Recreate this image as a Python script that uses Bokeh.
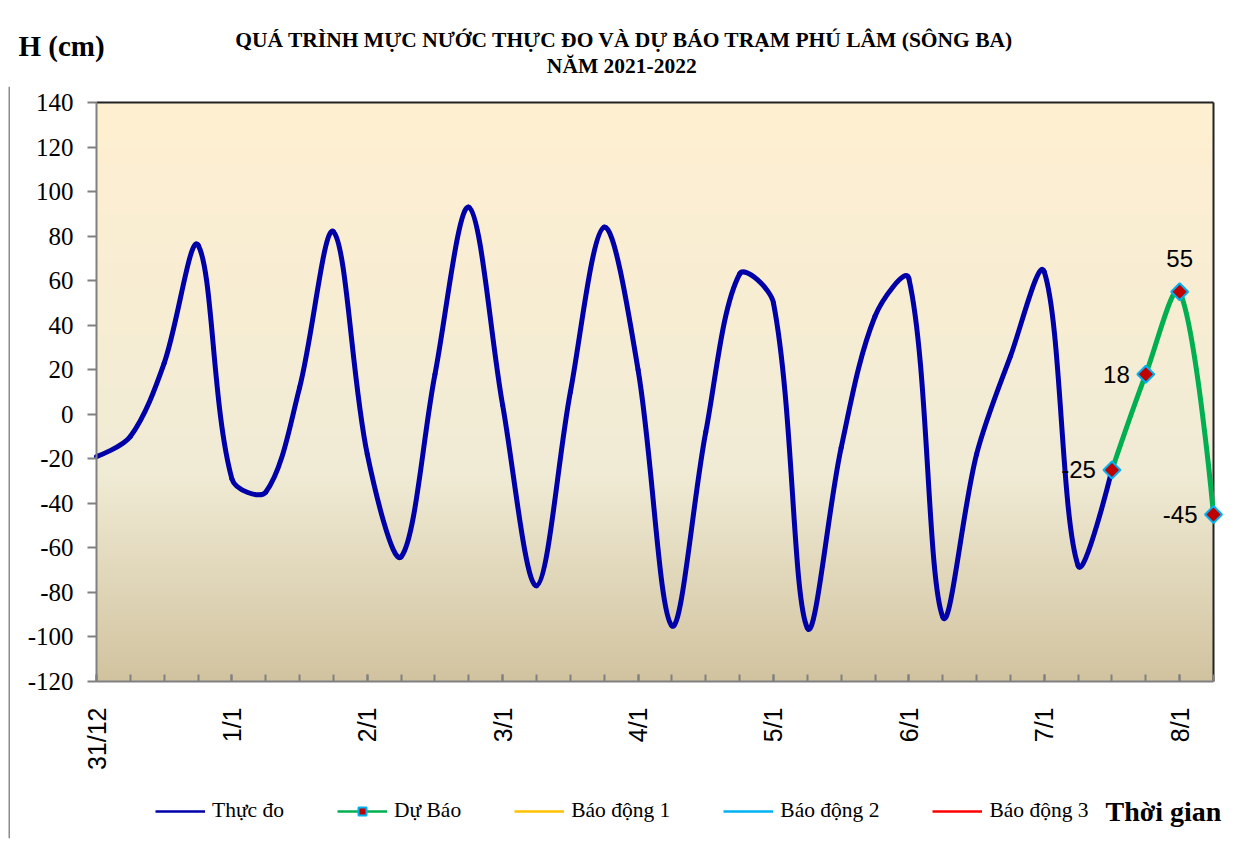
import numpy as np
from bokeh.plotting import figure
from bokeh.models import (Range1d, FixedTicker, Label, Legend, LegendItem,
                          ColumnDataSource, CustomJSTickFormatter)
from bokeh.embed import file_html
from bokeh.resources import INLINE
from bokeh.core.properties import value

# ---------------- data ----------------
tick_labels = ["31/12", "1/1", "2/1", "3/1", "4/1", "5/1", "6/1", "7/1", "8/1"]
steps_per_day = 4
observed = [-19, -10, 23, 76, -29, -35, 12, 82, -18, -64, 18, 93, 4, -77,
            10, 84, 20, -95, -8, 63, 50, -96, -15, 44, 61, -91, -18, 26, 64,
            -68, -25]
forecast_start = 30
forecast = [-25, 18, 55, -45]
series_names = ["Thực đo", "Dự Báo", "Báo động 1", "Báo động 2", "Báo động 3"]
y_ticks = list(range(-120, 141, 20))

title_text = "QUÁ TRÌNH MỰC NƯỚC THỰC ĐO VÀ DỰ BÁO TRẠM PHÚ LÂM (SÔNG BA)\nNĂM  2021-2022"
y_title = "H (cm)"
x_title = "Thời gian"

SERIF = "Liberation Serif"
SANS = "Liberation Sans"
BLUE = "#0000A8"
GREEN = "#00B050"

# ---------------- layout (pixels) ----------------
W, H = 1229, 840
PLOT_L, PLOT_R, PLOT_T, PLOT_B = 96, 1213, 102, 681   # chart area
FR_L, FR_R, FR_T, FR_B = 8, 1225, 86, 838             # bokeh frame
n_points = forecast_start + len(forecast)
px_x = (PLOT_R - PLOT_L) / (n_points - 1)
px_y = (PLOT_B - PLOT_T) / (y_ticks[-1] - y_ticks[0])
x_lo = 0 - (PLOT_L - FR_L) / px_x
x_hi = (n_points - 1) + (FR_R - PLOT_R) / px_x
y_lo = y_ticks[0] - (FR_B - PLOT_B) / px_y
y_hi = y_ticks[-1] + (PLOT_T - FR_T) / px_y


# smoothed-line rendering (bezier segments through the data points)
def smooth_segments(xs, ys, t=1.0 / 3.0):
    xs = np.asarray(xs, float)
    ys = np.asarray(ys, float)
    n = len(xs)
    cb_x, cb_y = xs.copy(), ys.copy()
    ca_x, ca_y = xs.copy(), ys.copy()
    for i in range(1, n - 1):
        d0 = np.hypot((xs[i] - xs[i - 1]) * px_x, (ys[i] - ys[i - 1]) * px_y)
        d1 = np.hypot((xs[i + 1] - xs[i]) * px_x, (ys[i + 1] - ys[i]) * px_y)
        tx = xs[i + 1] - xs[i - 1]
        ty = ys[i + 1] - ys[i - 1]
        s = d0 + d1
        cb_x[i] = xs[i] - tx * d0 / s * t
        cb_y[i] = ys[i] - ty * d0 / s * t
        ca_x[i] = xs[i] + tx * d1 / s * t
        ca_y[i] = ys[i] + ty * d1 / s * t
    return dict(x0=xs[:-1], y0=ys[:-1], x1=xs[1:], y1=ys[1:],
                cx0=ca_x[:-1], cy0=ca_y[:-1], cx1=cb_x[1:], cy1=cb_y[1:])


x_obs = list(range(len(observed)))
x_fc = list(range(forecast_start, forecast_start + len(forecast)))

p = figure(width=W, height=H, output_backend="svg", toolbar_location=None,
           x_range=Range1d(x_lo, x_hi), y_range=Range1d(y_lo, y_hi),
           min_border_left=FR_L, min_border_right=W - FR_R,
           min_border_top=FR_T, min_border_bottom=H - FR_B)
p.outline_line_color = None
p.grid.visible = False
p.background_fill_color = "white"
p.border_fill_color = "white"

# gradient background (Parchment-like) over the chart area
stops = [(0.0, (255, 239, 209)), (0.64, (240, 235, 213)), (1.0, (209, 195, 159))]
nrow = 300
img = np.zeros((nrow, 1), dtype=np.uint32)
view = img.view(dtype=np.uint8).reshape((nrow, 1, 4))
for r in range(nrow):
    t = 1.0 - r / (nrow - 1)
    col = stops[-1][1]
    for k in range(len(stops) - 1):
        t0, c0 = stops[k]
        t1, c1 = stops[k + 1]
        if t0 <= t <= t1:
            f = (t - t0) / (t1 - t0)
            col = [c0[j] + (c1[j] - c0[j]) * f for j in range(3)]
            break
    view[r, 0, 0:3] = [int(round(c)) for c in col]
    view[r, 0, 3] = 255
p.image_rgba(image=[img], x=0, y=y_ticks[0], dw=n_points - 1,
             dh=y_ticks[-1] - y_ticks[0], level="image")

# top and right border of the chart area, left edge of the chart box
p.segment(x0=[0, n_points - 1], y0=[y_ticks[-1], y_ticks[0]],
          x1=[n_points - 1, n_points - 1], y1=[y_ticks[-1], y_ticks[-1]],
          line_color="#222222", line_width=2, level="underlay")
p.segment(x0=[x_lo], y0=[y_lo], x1=[x_lo], y1=[y_hi],
          line_color="#8C8C8C", line_width=3, level="underlay")

# observed
src_obs = ColumnDataSource(smooth_segments(x_obs, observed))
p.bezier(x0="x0", y0="y0", x1="x1", y1="y1", cx0="cx0", cy0="cy0",
         cx1="cx1", cy1="cy1", source=src_obs, line_color=BLUE,
         line_width=5, line_cap="round")

# forecast
src_fc = ColumnDataSource(smooth_segments(x_fc, forecast))
p.bezier(x0="x0", y0="y0", x1="x1", y1="y1", cx0="cx0", cy0="cy0",
         cx1="cx1", cy1="cy1", source=src_fc, line_color=GREEN,
         line_width=5, line_cap="round")
p.scatter(x=x_fc, y=forecast, marker="square", angle=np.pi / 4, size=12,
          fill_color="#C00000", line_color="#00B0F0", line_width=2)

# data labels
peak = int(np.argmax(forecast))
left_x = [x for i, x in enumerate(x_fc) if i != peak]
left_y = [v for i, v in enumerate(forecast) if i != peak]
p.text(x=left_x, y=left_y, text=[str(v) for v in left_y],
       text_font=value(SANS), text_font_size="24px", text_align="right",
       text_baseline="middle", x_offset=-16, text_color="black")
p.text(x=[x_fc[peak]], y=[forecast[peak]], text=[str(forecast[peak])],
       text_font=value(SANS), text_font_size="24px", text_align="center",
       text_baseline="alphabetic", y_offset=-33, text_color="black")

# axes
yax = p.yaxis[0]
yax.ticker = FixedTicker(ticks=y_ticks)
yax.formatter = CustomJSTickFormatter(code="return String(Math.round(tick));")
yax.bounds = (y_ticks[0], y_ticks[-1])
yax.fixed_location = 0
yax.axis_line_color = "#808080"
yax.axis_line_width = 2
yax.major_tick_line_color = "#808080"
yax.major_tick_line_width = 2
yax.major_tick_in = 0
yax.major_tick_out = 9
yax.minor_tick_line_color = None
yax.major_label_text_font = SERIF
yax.major_label_text_font_size = "25px"
yax.major_label_text_color = "black"
yax.major_label_standoff = 14

xax = p.xaxis[0]
major = list(range(0, n_points, steps_per_day))[:len(tick_labels)]
xax.ticker = FixedTicker(ticks=major, minor_ticks=list(range(n_points)))
xax.formatter = CustomJSTickFormatter(
    args=dict(tick_pos=major, tick_txt=tick_labels),
    code="const i = tick_pos.indexOf(Math.round(tick)); return i >= 0 ? tick_txt[i] : '';")
xax.bounds = (0, n_points - 1)
xax.fixed_location = y_ticks[0]
xax.major_label_orientation = np.pi / 2
xax.axis_line_color = "#808080"
xax.axis_line_width = 2
xax.major_tick_line_color = "#808080"
xax.major_tick_line_width = 2
xax.minor_tick_line_color = "#808080"
xax.minor_tick_line_width = 2
xax.major_tick_in = 7
xax.major_tick_out = 0
xax.minor_tick_in = 7
xax.minor_tick_out = 0
xax.major_label_text_font = SANS
xax.major_label_text_font_size = "25px"
xax.major_label_text_color = "black"
xax.major_label_standoff = 26

# legend proxies (one NaN point each, nothing drawn in the chart)
nan = [float("nan")]
r_obs = p.line(x=nan, y=nan, line_color=BLUE, line_width=2.5)
r_fc_l = p.line(x=nan, y=nan, line_color=GREEN, line_width=2.5)
r_fc_m = p.scatter(x=nan, y=nan, marker="square", angle=np.pi / 4, size=9,
                   fill_color="#C00000", line_color="#00B0F0", line_width=2)
r_a1 = p.line(x=nan, y=nan, line_color="#FFC000", line_width=2.5)
r_a2 = p.line(x=nan, y=nan, line_color="#00B0F0", line_width=2.5)
r_a3 = p.line(x=nan, y=nan, line_color="#FF0000", line_width=2.5)
items = [LegendItem(label=series_names[0], renderers=[r_obs]),
         LegendItem(label=series_names[1], renderers=[r_fc_l, r_fc_m]),
         LegendItem(label=series_names[2], renderers=[r_a1]),
         LegendItem(label=series_names[3], renderers=[r_a2]),
         LegendItem(label=series_names[4], renderers=[r_a3])]
legend = Legend(items=items, orientation="horizontal",
                location=(155 - FR_L, 15),
                glyph_width=50, glyph_height=20, label_standoff=7, spacing=53,
                padding=0, margin=0, border_line_color=None,
                background_fill_alpha=0, label_text_font=SERIF,
                label_text_font_size="21.5px", label_text_color="black",
                label_height=20)
p.add_layout(legend)

p.add_layout(Label(x=1105 - FR_L, y=FR_B - 811, x_units="screen",
                   y_units="screen", text=x_title, text_font=SERIF,
                   text_font_size="28px", text_font_style="bold",
                   text_align="left", text_baseline="alphabetic",
                   text_color="black"))

# top texts (in the top panel; y measured up from the frame top)
p.add_layout(Label(x=624 - FR_L, y=71 - (PLOT_T - 4 - FR_T), x_units="screen",
                   y_units="screen", text=title_text, text_font=SERIF,
                   text_font_size="21.5px", text_font_style="bold",
                   text_align="center", text_baseline="top",
                   text_line_height=1.1, text_color="black"), "above")
p.add_layout(Label(x=18 - FR_L, y=3 - (PLOT_T - 4 - FR_T), x_units="screen",
                   y_units="screen", text=y_title, text_font=SERIF,
                   text_font_size="29px", text_font_style="bold",
                   text_align="left", text_baseline="alphabetic",
                   text_color="black"), "above")

open("out.html", "w").write(file_html(p, INLINE))
